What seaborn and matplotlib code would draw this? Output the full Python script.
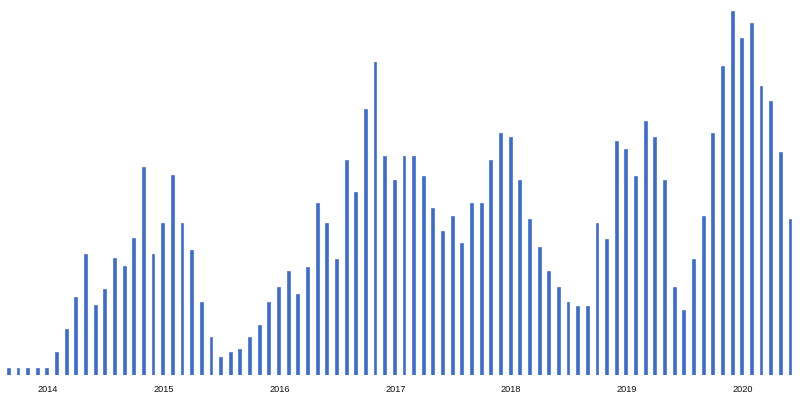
import pandas as pd
import numpy as np
import seaborn as sns
import matplotlib.pyplot as plt

# monthly values, Sep 2013 - Jun 2020 (arbitrary units)
months = pd.date_range('2013-09-01', '2020-06-01', freq='MS')
values = [
    6.7, 6.7, 6.7, 6.7,
    6.7, 22.7, 46, 78, 121, 70, 85.7, 117, 109, 136.7, 207.7, 121,
    152.3, 200, 152.3, 125, 73.3, 38, 18.3, 22.7, 26, 38, 50.3, 73.3,
    88.5, 104.5, 81, 108.5, 172, 152, 116.5, 215, 183.5, 266, 313, 219,
    195.5, 219, 219, 199, 167.5, 144, 159.5, 132.5, 172, 172, 215, 242.5,
    238.5, 195.5, 156, 128, 104.5, 88.5, 73, 69.5, 69.5, 152, 136, 234.5,
    226.5, 199, 254.5, 238.5, 195.5, 88.5, 65, 116.5, 159.5, 242.5, 309.5, 364.5,
    336.8, 352.5, 289.5, 273.8, 222.8, 156,
]
year_labels = ['2014', '2015', '2016', '2017', '2018', '2019', '2020']

df = pd.DataFrame({'month': months.strftime('%Y-%m'), 'value': values})

sns.set_style('white')
plt.rcParams['font.family'] = ['Liberation Sans', 'DejaVu Sans']

fig = plt.figure(figsize=(8, 4.01), dpi=100)
ax = fig.add_axes([0, 26 / 401, 1, 375 / 401])

sns.barplot(data=df, x='month', y='value', color='#3a6cd2', saturation=1,
            width=0.3, ax=ax, edgecolor='#2f5fc4', linewidth=0.4)

# year labels sit around each January bar
jan_idx = [i for i, m in enumerate(months) if m.month == 1]
ax.set_xticks([i + 0.1 for i in jan_idx])
ax.set_xticklabels(year_labels, fontsize=6.6, color='#111111')
ax.tick_params(axis='x', length=0, pad=7.5)
ax.set_yticks([])
ax.set_xlabel('')
ax.set_ylabel('')
ax.set_xlim(-0.86, 82.04)
ax.set_ylim(0, 375)
for s in ax.spines.values():
    s.set_visible(False)

fig.savefig('out.png', dpi=100)
